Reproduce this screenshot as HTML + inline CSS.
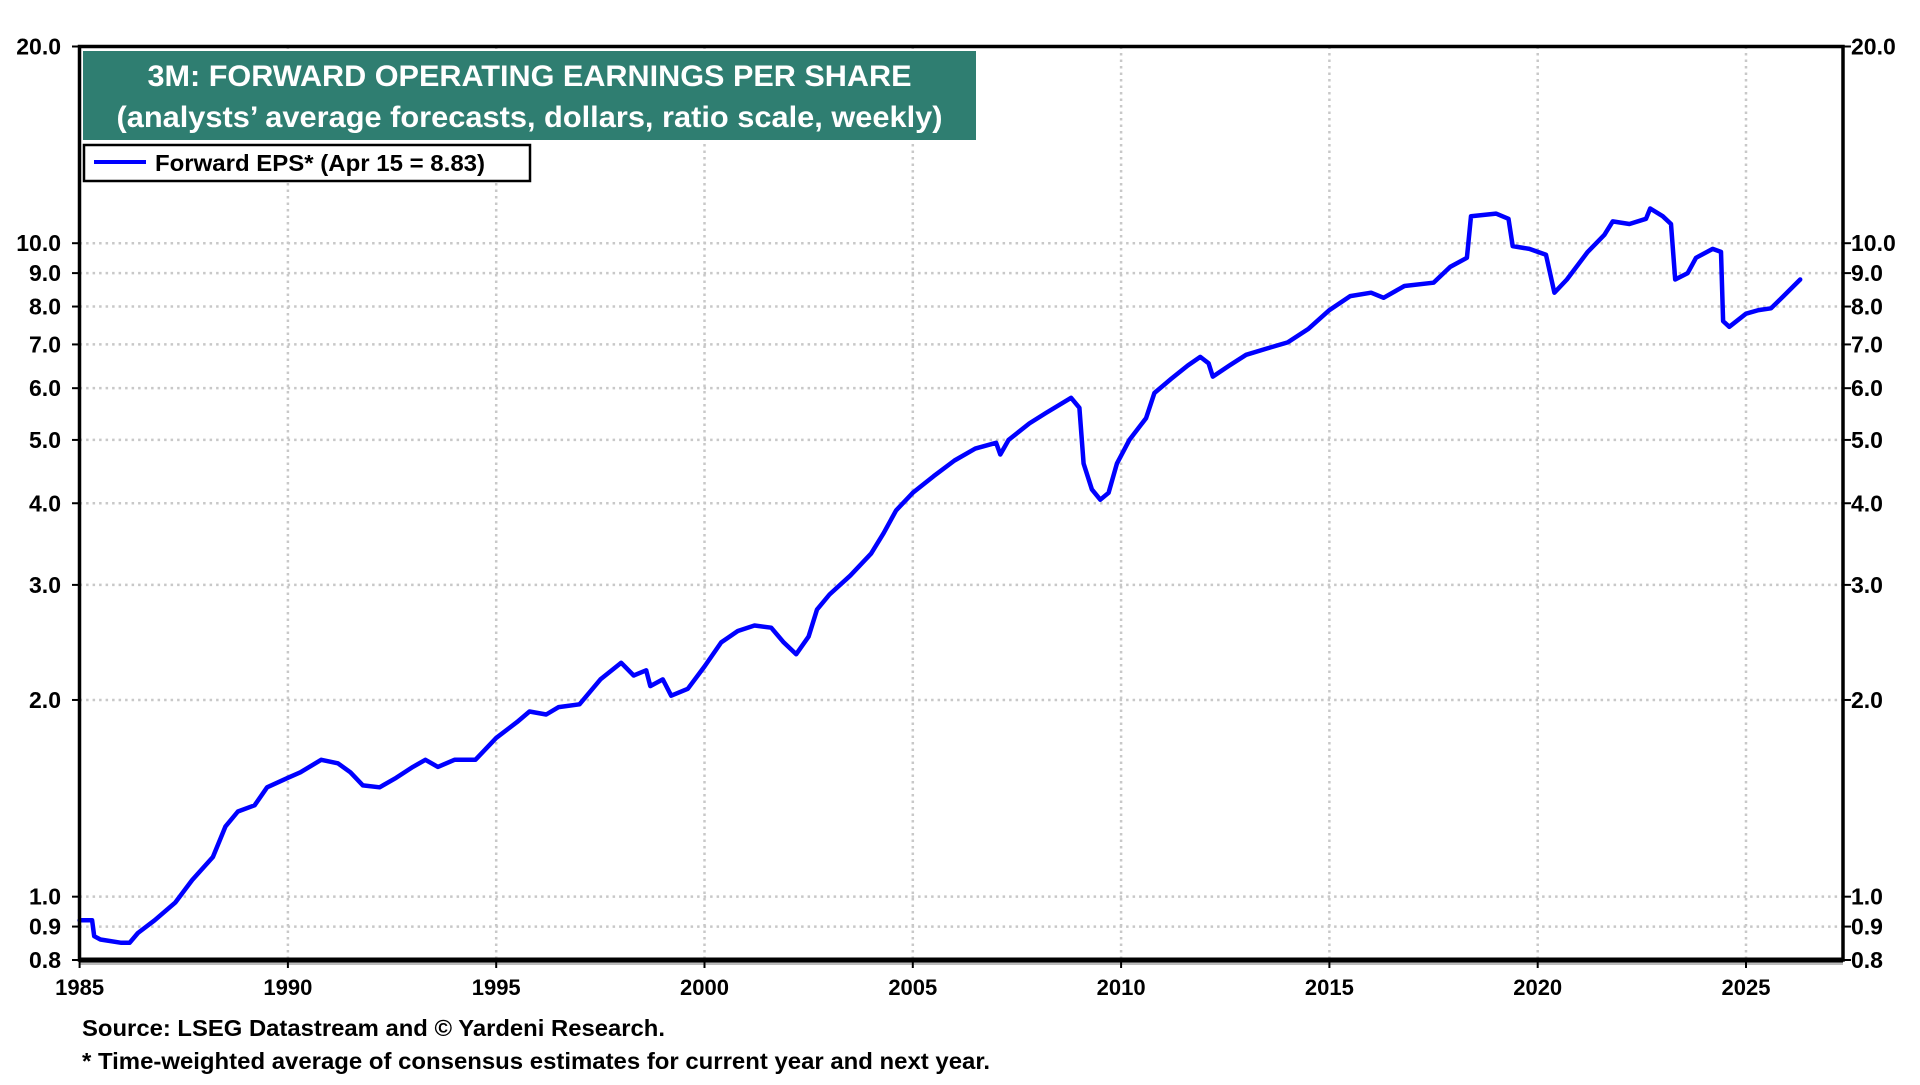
<!DOCTYPE html>
<html><head><meta charset="utf-8">
<style>
html,body{margin:0;padding:0;background:#fff;}
body{width:1920px;height:1080px;overflow:hidden;font-family:"Liberation Sans",sans-serif;}
svg text{font-family:"Liberation Sans",sans-serif;font-weight:bold;}
</style></head>
<body>
<svg id="chart" width="1920" height="1080" viewBox="0 0 1920 1080" xmlns="http://www.w3.org/2000/svg">
<g id="grid"></g>
<g id="series"></g>
<rect x="79.5" y="46.5" width="1763.5" height="913.5" fill="none" stroke="#000" stroke-width="3.5"/>
<line x1="79" y1="963" x2="1843" y2="963" stroke="#bbb" stroke-width="4"/>
<line x1="79" y1="960" x2="1843" y2="960" stroke="#000" stroke-width="5"/>
<g id="yl"></g>
<g id="yr"></g>
<g id="xl"></g>
<rect x="83" y="51" width="893" height="89" fill="#2f7e71"/>
<text x="529.5" y="86" fill="#fff" font-size="30" text-anchor="middle" textLength="764" lengthAdjust="spacingAndGlyphs">3M: FORWARD OPERATING EARNINGS PER SHARE</text>
<text x="529.5" y="127" fill="#fff" font-size="30" text-anchor="middle" textLength="826" lengthAdjust="spacingAndGlyphs">(analysts’ average forecasts, dollars, ratio scale, weekly)</text>
<g>
<rect x="84" y="145" width="446" height="36" fill="#fff" stroke="#000" stroke-width="2.5"/>
<line x1="94" y1="162" x2="146" y2="162" stroke="#0000ff" stroke-width="4"/>
<text x="155" y="171" font-size="23" textLength="330" lengthAdjust="spacingAndGlyphs">Forward EPS* (Apr 15 = 8.83)</text>
</g>
<text x="82" y="1036" font-size="23" textLength="583" lengthAdjust="spacingAndGlyphs">Source: LSEG Datastream and © Yardeni Research.</text>
<text x="82" y="1069" font-size="23" textLength="908" lengthAdjust="spacingAndGlyphs">* Time-weighted average of consensus estimates for current year and next year.</text>
</svg>
<script>
const years=[1985,1985.3,1985.35,1985.5,1986.0,1986.2,1986.4,1986.8,1987.3,1987.7,1988.2,1988.5,1988.8,1989.2,1989.5,1990.0,1990.3,1990.8,1991.2,1991.5,1991.8,1992.2,1992.6,1993.0,1993.3,1993.6,1994.0,1994.5,1995.0,1995.5,1995.8,1996.2,1996.5,1997.0,1997.5,1998.0,1998.3,1998.6,1998.7,1999.0,1999.2,1999.6,2000.0,2000.4,2000.8,2001.2,2001.6,2001.9,2002.2,2002.5,2002.7,2003.0,2003.5,2004.0,2004.3,2004.6,2005.0,2005.5,2006.0,2006.5,2007.0,2007.1,2007.3,2007.8,2008.2,2008.8,2009.0,2009.1,2009.3,2009.5,2009.7,2009.9,2010.2,2010.6,2010.8,2011.2,2011.6,2011.9,2012.1,2012.2,2012.6,2013.0,2013.5,2014.0,2014.5,2015.0,2015.5,2016.0,2016.3,2016.8,2017.5,2017.9,2018.3,2018.4,2019.0,2019.3,2019.4,2019.8,2020.2,2020.4,2020.7,2021.2,2021.6,2021.8,2022.2,2022.6,2022.7,2023.0,2023.2,2023.3,2023.6,2023.8,2024.2,2024.4,2024.45,2024.6,2025.0,2025.3,2025.6,2025.9,2026.3];
const eps=[0.92,0.92,0.87,0.86,0.85,0.85,0.88,0.92,0.98,1.06,1.15,1.28,1.35,1.38,1.47,1.52,1.55,1.62,1.60,1.55,1.48,1.47,1.52,1.58,1.62,1.58,1.62,1.62,1.75,1.85,1.92,1.90,1.95,1.97,2.15,2.28,2.18,2.22,2.10,2.15,2.03,2.08,2.25,2.45,2.55,2.6,2.58,2.45,2.35,2.5,2.75,2.9,3.1,3.35,3.6,3.9,4.15,4.4,4.65,4.85,4.95,4.75,5.0,5.3,5.5,5.8,5.6,4.6,4.2,4.05,4.15,4.6,5.0,5.4,5.9,6.2,6.5,6.7,6.55,6.25,6.5,6.75,6.9,7.05,7.4,7.9,8.3,8.4,8.25,8.6,8.7,9.2,9.5,11.0,11.1,10.9,9.9,9.8,9.6,8.4,8.8,9.7,10.3,10.8,10.7,10.9,11.3,11.0,10.7,8.8,9.0,9.5,9.8,9.7,7.6,7.45,7.8,7.9,7.95,8.3,8.8];
const yTicks=[0.8,0.9,1.0,2.0,3.0,4.0,5.0,6.0,7.0,8.0,9.0,10.0,20.0];
const xTicks=[1985,1990,1995,2000,2005,2010,2015,2020,2025];
const NS="http://www.w3.org/2000/svg";
const X0=79.6,PX=41.66,YT=46.5,YB=960,VMIN=0.8,VMAX=20;
function xs(y){return X0+(y-1985)*PX;}
function ys(v){return YB-(YB-YT)*Math.log(v/VMIN)/Math.log(VMAX/VMIN);}
function mk(tag,parent,attrs){const e=document.createElementNS(NS,tag);for(const k in attrs)e.setAttribute(k,attrs[k]);parent.appendChild(e);return e;}
const grid=document.getElementById('grid'),yl=document.getElementById('yl'),yr=document.getElementById('yr'),xl=document.getElementById('xl'),ser=document.getElementById('series');
yTicks.forEach(v=>{const y=ys(v);
 if(v>0.8&&v<20){const g=mk('line',grid,{x1:X0,x2:1843,y1:y,y2:y,stroke:'#c8c8c8','stroke-width':2.5,'stroke-dasharray':'2.5 4'});
 
 }
 const t1=mk('line',yl,{x1:72,x2:80,y1:y,y2:y,stroke:'#000','stroke-width':2});
 
 
 const a=mk('text',yl,{x:61,y:y+8,'font-size':23,'text-anchor':'end'});a.textContent=v.toFixed(1);
 
 
 const t2=mk('line',yr,{x1:1843,x2:1851,y1:y,y2:y,stroke:'#000','stroke-width':2});
 
 
 const b=mk('text',yr,{x:1851,y:y+8,'font-size':23});b.textContent=v.toFixed(1);
 
 
});
xTicks.forEach(yr_=>{const x=xs(yr_);
 if(yr_>1985){const g=mk('line',grid,{x1:x,x2:x,y1:YT,y2:YB,stroke:'#c8c8c8','stroke-width':2.5,'stroke-dasharray':'2.5 4'});
 
 }
 const t=mk('line',xl,{x1:x,x2:x,y1:960,y2:968,stroke:'#000','stroke-width':2});
 
 
 const a=mk('text',xl,{x:x,y:995,'font-size':22,'text-anchor':'middle'});a.textContent=yr_;
 
 
});
let d='';
years.forEach((yy,i)=>{const x=xs(yy),y=ys(eps[i]);
 d+=(i===0?'M':' L')+x.toFixed(1)+' '+y.toFixed(1);});
const p=mk('path',ser,{d:d,fill:'none',stroke:'#0000ff','stroke-width':4.5,'stroke-linejoin':'round','stroke-linecap':'round'});


</script>
</body></html>
